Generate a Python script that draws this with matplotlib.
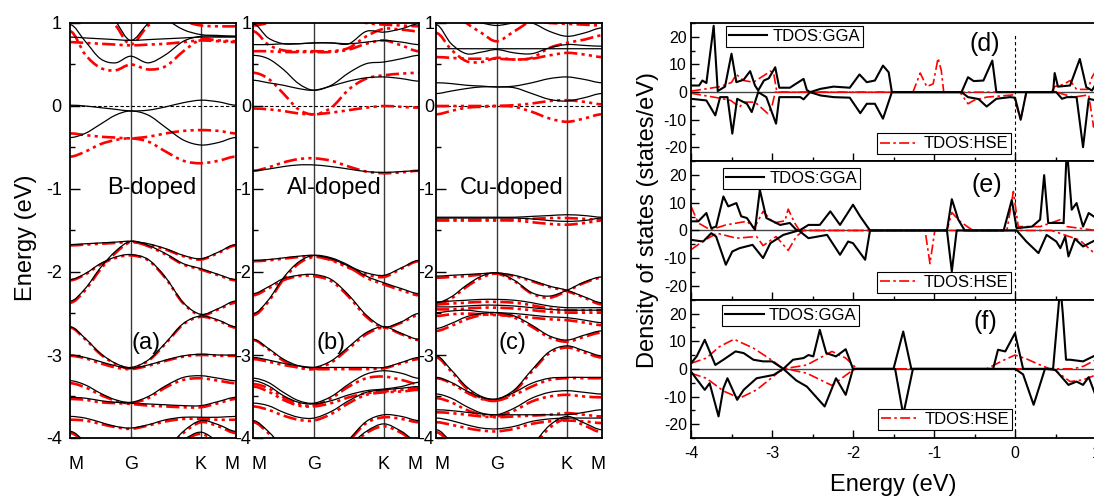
import numpy as np
import matplotlib
matplotlib.use('agg')
import matplotlib.pyplot as plt
from matplotlib.path import Path
from matplotlib.patches import PathPatch
from matplotlib.lines import Line2D
from matplotlib.ticker import MultipleLocator

plt.rcParams['font.family'] = ['Liberation Sans', 'DejaVu Sans']
plt.rcParams['axes.unicode_minus'] = False

W, H = 1094, 498

# ---------------- band structures along M-G-K-M ----------------
k_ticks = [0.0, 0.5774, 1.2440, 1.5774]
k_labels = ['M', 'G', 'K', 'M']
k_grid = [0.0, 0.1443, 0.2887, 0.4330, 0.5774, 0.7440, 0.9107, 1.0774, 1.2440, 1.4107, 1.5774]

# energies (eV) of each band on k_grid
b_gga = [
    [1.60, 1.40, 1.22, 1.02, 0.79, 1.00, 1.20, 1.32, 1.35, 1.35, 1.35],
    [0.98, 0.78, 0.57, 0.52, 0.60, 0.52, 0.62, 0.78, 0.84, 0.84, 0.84],
    [0.83, 0.82, 0.81, 0.80, 0.79, 0.80, 0.81, 0.82, 0.83, 0.83, 0.83],
    [1.50, 1.45, 1.40, 1.35, 1.30, 1.22, 1.05, 0.92, 0.86, 0.85, 0.84],
    [0.01, 0.00, -0.02, -0.04, -0.06, -0.05, -0.01, 0.04, 0.07, 0.05, 0.01],
    [-0.38, -0.33, -0.22, -0.11, -0.06, -0.11, -0.26, -0.41, -0.47, -0.44, -0.38],
    [-1.67, -1.66, -1.65, -1.64, -1.63, -1.66, -1.72, -1.80, -1.84, -1.76, -1.67],
    [-2.35, -2.20, -1.95, -1.75, -1.63, -1.68, -1.78, -1.90, -1.96, -2.03, -2.09],
    [-2.09, -2.02, -1.90, -1.82, -1.79, -1.85, -2.07, -2.37, -2.51, -2.44, -2.35],
    [-2.66, -2.80, -2.98, -3.10, -3.15, -3.06, -2.85, -2.62, -2.53, -2.58, -2.66],
    [-3.00, -3.03, -3.08, -3.13, -3.16, -3.12, -3.06, -3.01, -2.99, -3.00, -3.00],
    [-3.31, -3.36, -3.46, -3.54, -3.57, -3.50, -3.37, -3.27, -3.25, -3.28, -3.31],
    [-3.51, -3.52, -3.55, -3.57, -3.58, -3.59, -3.60, -3.61, -3.61, -3.56, -3.51],
    [-3.74, -3.76, -3.81, -3.86, -3.88, -3.84, -3.78, -3.75, -3.75, -3.75, -3.74],
    [-3.92, -4.05, -4.25, -4.40, -4.45, -4.35, -4.15, -3.92, -3.79, -3.84, -3.92],
    [-4.50, -4.50, -4.45, -4.42, -4.40, -4.30, -4.15, -4.02, -3.93, -4.05, -4.20],
]
b_hse = [
    [0.77, 0.76, 0.75, 0.74, 0.73, 0.74, 0.75, 0.77, 0.79, 0.78, 0.77],
    [0.90, 0.62, 0.46, 0.43, 0.50, 0.44, 0.48, 0.66, 0.80, 0.79, 0.78],
    [1.50, 1.30, 1.12, 0.97, 0.74, 0.97, 1.08, 1.02, 0.97, 0.96, 0.96],
    [-0.33, -0.35, -0.37, -0.38, -0.39, -0.37, -0.33, -0.30, -0.29, -0.30, -0.33],
    [-0.61, -0.55, -0.46, -0.41, -0.39, -0.43, -0.55, -0.66, -0.69, -0.66, -0.61],
    [-1.68, -1.67, -1.66, -1.65, -1.64, -1.67, -1.73, -1.81, -1.85, -1.77, -1.68],
    [-2.37, -2.22, -1.97, -1.77, -1.64, -1.69, -1.79, -1.91, -1.97, -2.04, -2.10],
    [-2.10, -2.03, -1.91, -1.83, -1.80, -1.86, -2.08, -2.38, -2.52, -2.45, -2.37],
    [-2.67, -2.81, -2.99, -3.11, -3.16, -3.07, -2.86, -2.63, -2.54, -2.59, -2.67],
    [-3.01, -3.04, -3.10, -3.15, -3.17, -3.13, -3.07, -3.02, -3.00, -3.01, -3.01],
    [-3.34, -3.39, -3.48, -3.55, -3.58, -3.52, -3.39, -3.30, -3.28, -3.31, -3.34],
    [-3.53, -3.54, -3.57, -3.58, -3.59, -3.61, -3.62, -3.63, -3.63, -3.58, -3.53],
    [-3.78, -3.79, -3.83, -3.87, -3.89, -3.85, -3.80, -3.77, -3.77, -3.78, -3.78],
    [-3.94, -4.07, -4.27, -4.42, -4.47, -4.37, -4.17, -3.94, -3.81, -3.86, -3.94],
    [-4.52, -4.52, -4.47, -4.44, -4.42, -4.32, -4.17, -4.04, -3.95, -4.07, -4.22],
]

al_gga = [
    [0.99, 0.82, 0.75, 0.75, 0.76, 0.76, 0.75, 0.90, 0.89, 0.93, 0.99],
    [0.74, 0.74, 0.75, 0.75, 0.76, 0.76, 0.75, 0.77, 0.79, 0.77, 0.74],
    [0.61, 0.57, 0.44, 0.27, 0.19, 0.25, 0.40, 0.51, 0.53, 0.57, 0.61],
    [0.31, 0.28, 0.25, 0.21, 0.19, 0.24, 0.30, 0.34, 0.35, 0.33, 0.30],
    [-0.78, -0.76, -0.73, -0.71, -0.71, -0.73, -0.76, -0.79, -0.80, -0.79, -0.78],
    [-1.86, -1.85, -1.83, -1.81, -1.80, -1.84, -1.93, -2.01, -2.04, -1.95, -1.86],
    [-2.50, -2.34, -2.07, -1.88, -1.80, -1.83, -1.92, -2.05, -2.13, -2.20, -2.26],
    [-2.26, -2.18, -2.08, -2.04, -2.03, -2.09, -2.28, -2.52, -2.66, -2.60, -2.50],
    [-2.81, -2.92, -3.05, -3.13, -3.15, -3.07, -2.90, -2.73, -2.66, -2.74, -2.81],
    [-3.03, -3.06, -3.10, -3.13, -3.15, -3.15, -3.15, -3.15, -3.15, -3.09, -3.03],
    [-3.28, -3.33, -3.45, -3.55, -3.58, -3.50, -3.35, -3.23, -3.19, -3.22, -3.28],
    [-3.31, -3.37, -3.49, -3.57, -3.59, -3.55, -3.48, -3.43, -3.41, -3.38, -3.33],
    [-3.58, -3.61, -3.69, -3.75, -3.76, -3.68, -3.55, -3.45, -3.42, -3.40, -3.38],
    [-3.79, -3.92, -4.12, -4.28, -4.35, -4.25, -4.02, -3.80, -3.72, -3.74, -3.79],
    [-4.40, -4.40, -4.40, -4.40, -4.40, -4.30, -4.10, -3.92, -3.83, -3.92, -4.05],
]
al_hse = [
    [0.97, 1.00, 1.05, 1.10, 1.12, 1.10, 1.04, 1.00, 0.98, 0.97, 0.96],
    [0.90, 0.74, 0.67, 0.66, 0.66, 0.66, 0.70, 0.84, 0.93, 0.92, 0.90],
    [0.66, 0.66, 0.65, 0.65, 0.65, 0.65, 0.68, 0.75, 0.79, 0.73, 0.66],
    [0.40, 0.33, 0.15, -0.04, -0.10, -0.02, 0.20, 0.33, 0.37, 0.39, 0.40],
    [-0.03, -0.04, -0.06, -0.09, -0.10, -0.08, -0.05, -0.02, 0.00, -0.01, -0.02],
    [-0.78, -0.74, -0.68, -0.64, -0.63, -0.66, -0.73, -0.79, -0.81, -0.80, -0.78],
    [-1.87, -1.86, -1.84, -1.82, -1.81, -1.86, -1.95, -2.03, -2.06, -1.96, -1.87],
    [-2.52, -2.36, -2.09, -1.90, -1.82, -1.85, -1.94, -2.07, -2.15, -2.22, -2.28],
    [-2.28, -2.20, -2.10, -2.05, -2.05, -2.11, -2.30, -2.54, -2.67, -2.61, -2.52],
    [-2.82, -2.93, -3.07, -3.15, -3.17, -3.09, -2.92, -2.75, -2.67, -2.75, -2.82],
    [-3.05, -3.08, -3.12, -3.15, -3.17, -3.17, -3.17, -3.17, -3.16, -3.10, -3.05],
    [-3.35, -3.40, -3.51, -3.59, -3.61, -3.52, -3.38, -3.28, -3.26, -3.30, -3.35],
    [-3.38, -3.44, -3.54, -3.61, -3.62, -3.58, -3.51, -3.46, -3.44, -3.42, -3.40],
    [-3.62, -3.66, -3.73, -3.78, -3.79, -3.71, -3.58, -3.48, -3.45, -3.44, -3.42],
    [-3.81, -3.94, -4.14, -4.30, -4.37, -4.27, -4.04, -3.82, -3.75, -3.77, -3.81],
    [-4.42, -4.42, -4.42, -4.42, -4.42, -4.32, -4.12, -3.94, -3.86, -3.94, -4.07],
]

cu_gga = [
    [1.05, 1.05, 1.03, 1.00, 0.97, 1.00, 1.00, 0.90, 0.84, 0.88, 0.94],
    [0.98, 0.75, 0.63, 0.65, 0.68, 0.64, 0.63, 0.70, 0.74, 0.73, 0.72],
    [0.69, 0.69, 0.69, 0.69, 0.69, 0.69, 0.69, 0.69, 0.69, 0.69, 0.69],
    [0.28, 0.27, 0.25, 0.24, 0.23, 0.24, 0.28, 0.33, 0.35, 0.32, 0.28],
    [0.15, 0.18, 0.21, 0.23, 0.23, 0.22, 0.15, 0.08, 0.06, 0.10, 0.15],
    [-1.34, -1.34, -1.34, -1.34, -1.34, -1.34, -1.33, -1.32, -1.31, -1.32, -1.34],
    [-1.35, -1.35, -1.35, -1.35, -1.35, -1.35, -1.36, -1.38, -1.39, -1.38, -1.35],
    [-2.05, -2.04, -2.03, -2.02, -2.01, -2.04, -2.10, -2.17, -2.22, -2.30, -2.37],
    [-2.37, -2.30, -2.16, -2.05, -2.01, -2.10, -2.25, -2.29, -2.22, -2.12, -2.06],
    [-2.36, -2.35, -2.34, -2.33, -2.33, -2.34, -2.37, -2.41, -2.43, -2.43, -2.43],
    [-2.42, -2.42, -2.41, -2.40, -2.40, -2.41, -2.43, -2.45, -2.46, -2.46, -2.46],
    [-2.49, -2.47, -2.46, -2.48, -2.49, -2.50, -2.52, -2.54, -2.55, -2.58, -2.61],
    [-2.68, -2.62, -2.54, -2.50, -2.49, -2.53, -2.64, -2.77, -2.82, -2.76, -2.71],
    [-3.01, -3.18, -3.38, -3.50, -3.53, -3.42, -3.18, -2.96, -2.89, -2.95, -3.01],
    [-3.27, -3.33, -3.43, -3.51, -3.53, -3.45, -3.34, -3.28, -3.27, -3.27, -3.27],
    [-3.47, -3.52, -3.62, -3.70, -3.72, -3.64, -3.52, -3.45, -3.43, -3.45, -3.47],
    [-3.66, -3.67, -3.69, -3.71, -3.72, -3.72, -3.72, -3.72, -3.72, -3.69, -3.66],
    [-3.76, -3.79, -3.84, -3.88, -3.89, -3.86, -3.80, -3.77, -3.76, -3.76, -3.76],
    [-3.90, -4.05, -4.25, -4.40, -4.45, -4.35, -4.10, -3.85, -3.74, -3.82, -3.90],
]
cu_hse = [
    [1.30, 1.15, 1.00, 0.88, 0.78, 0.90, 1.02, 1.00, 0.99, 0.98, 0.97],
    [0.88, 0.68, 0.54, 0.53, 0.58, 0.56, 0.58, 0.70, 0.76, 0.80, 0.85],
    [0.59, 0.58, 0.57, 0.57, 0.57, 0.56, 0.57, 0.61, 0.64, 0.62, 0.59],
    [0.00, 0.00, 0.00, 0.00, 0.00, 0.01, 0.03, 0.06, 0.07, 0.05, 0.02],
    [-0.10, -0.06, -0.02, -0.01, 0.00, -0.01, -0.07, -0.15, -0.19, -0.15, -0.10],
    [-1.37, -1.37, -1.37, -1.37, -1.37, -1.37, -1.36, -1.35, -1.35, -1.36, -1.37],
    [-1.38, -1.38, -1.38, -1.38, -1.38, -1.38, -1.40, -1.42, -1.43, -1.41, -1.38],
    [-2.07, -2.06, -2.05, -2.03, -2.02, -2.05, -2.11, -2.18, -2.23, -2.31, -2.39],
    [-2.39, -2.32, -2.18, -2.07, -2.02, -2.11, -2.26, -2.31, -2.23, -2.13, -2.07],
    [-2.39, -2.38, -2.37, -2.36, -2.36, -2.37, -2.40, -2.44, -2.46, -2.46, -2.46],
    [-2.45, -2.45, -2.44, -2.43, -2.43, -2.44, -2.46, -2.48, -2.49, -2.49, -2.49],
    [-2.53, -2.51, -2.50, -2.51, -2.52, -2.53, -2.55, -2.57, -2.58, -2.61, -2.64],
    [-2.71, -2.65, -2.57, -2.52, -2.51, -2.55, -2.66, -2.79, -2.84, -2.78, -2.73],
    [-3.03, -3.20, -3.40, -3.52, -3.55, -3.44, -3.20, -2.98, -2.91, -2.97, -3.03],
    [-3.28, -3.34, -3.45, -3.53, -3.55, -3.48, -3.38, -3.30, -3.28, -3.28, -3.28],
    [-3.52, -3.57, -3.66, -3.72, -3.74, -3.67, -3.56, -3.50, -3.48, -3.50, -3.51],
    [-3.69, -3.70, -3.72, -3.74, -3.75, -3.74, -3.73, -3.72, -3.70, -3.72, -3.74],
    [-3.81, -3.84, -3.88, -3.91, -3.92, -3.89, -3.83, -3.80, -3.79, -3.80, -3.82],
    [-3.93, -4.08, -4.28, -4.43, -4.48, -4.38, -4.13, -3.88, -3.77, -3.85, -3.93],
]

band_sets = [(b_gga, b_hse, 'B-doped', '(a)'),
             (al_gga, al_hse, 'Al-doped', '(b)'),
             (cu_gga, cu_hse, 'Cu-doped', '(c)')]

# ---------------- total DOS, (energy eV, states/eV) ----------------
d_gga_up = [(-4.0, 2.4), (-3.90, 2.4), (-3.86, 4.2), (-3.81, 3.3), (-3.72, 24.0), (-3.67, 0.4),
            (-3.58, 2.0), (-3.50, 13.9), (-3.44, 3.6), (-3.35, 4.5), (-3.27, 7.6), (-3.21, 2.4),
            (-3.17, 0.6), (-3.10, 4.2), (-3.04, 5.0), (-2.96, 9.0), (-2.91, 1.6), (-2.78, 1.6),
            (-2.61, 4.8), (-2.57, 0.8), (-2.53, 0.0), (-2.40, 1.2), (-2.24, 2.0), (-2.04, 1.6),
            (-1.92, 6.4), (-1.83, 3.6), (-1.73, 4.2), (-1.63, 9.6), (-1.56, 7.2), (-1.52, 0.0),
            (-0.66, 0.0), (-0.58, 5.4), (-0.51, 4.0), (-0.39, 4.2), (-0.28, 11.4), (-0.23, 0.0),
            (0.47, 0.0), (0.49, 6.9), (0.53, 2.0), (0.68, 2.4), (0.80, 12.0), (0.88, 1.8),
            (0.95, 0.6), (1.0, 3.0)]
d_gga_dn = [(-4.0, -2.4), (-3.81, -3.0), (-3.70, -8.4), (-3.64, -1.8), (-3.55, -1.8), (-3.49, -15.0),
            (-3.43, -2.4), (-3.31, -4.2), (-3.25, -7.2), (-3.17, 0.0), (-3.07, -1.8), (-2.95, -11.4),
            (-2.91, -1.8), (-2.65, -1.8), (-2.61, -2.6), (-2.53, 0.0), (-2.40, -1.2), (-2.24, -1.8),
            (-2.04, -2.0), (-1.91, -7.6), (-1.83, -4.2), (-1.73, -4.2), (-1.63, -9.6), (-1.52, 0.0),
            (-0.66, 0.0), (-0.58, -1.8), (-0.45, -2.5), (-0.35, -5.2), (-0.23, -2.4), (-0.06, -1.8),
            (0.0, -2.0), (0.07, -10.0), (0.14, 0.0), (0.51, 0.0), (0.58, -2.4), (0.64, -1.8),
            (0.76, -1.8), (0.84, -19.9), (0.91, -2.4), (1.0, -3.0)]
d_hse_up = [(-4.0, 0.4), (-3.81, 1.2), (-3.64, 2.0), (-3.50, 3.5), (-3.44, 6.4), (-3.35, 4.2),
            (-3.23, 3.6), (-3.10, 6.0), (-3.02, 7.6), (-2.98, 7.0), (-2.94, 0.0), (-1.26, 0.0),
            (-1.17, 6.9), (-1.09, 2.0), (-1.01, 3.0), (-0.95, 12.3), (-0.91, 7.8), (-0.88, 0.0),
            (0.45, 0.0), (0.49, 2.0), (0.60, 2.8), (0.68, 4.2), (0.76, 1.0), (0.90, 1.0),
            (0.95, 5.4), (1.0, 7.8)]
d_hse_dn = [(-4.0, -0.4), (-3.68, -2.0), (-3.51, -3.0), (-3.40, -5.4), (-3.35, -3.6), (-3.21, -3.6),
            (-3.05, -7.8), (-3.00, -5.0), (-2.96, 0.0), (-0.68, 0.0), (-0.58, -4.2), (-0.51, -3.0),
            (-0.35, -1.8), (-0.02, -1.0), (0.07, -10.0), (0.14, 0.0), (0.51, 0.0), (0.72, -1.8),
            (0.91, -1.0), (0.97, -12.6), (1.0, -8.0)]

e_gga_up = [(-4.0, 3.3), (-3.91, 3.3), (-3.81, 6.3), (-3.75, 0.8), (-3.69, 1.4), (-3.60, 12.3),
            (-3.54, 8.7), (-3.44, 9.9), (-3.38, 5.1), (-3.31, 4.5), (-3.21, 0.2), (-3.15, 14.7),
            (-3.07, 4.5), (-2.90, 2.0), (-2.78, 2.7), (-2.70, 0.2), (-2.66, 0.0), (-2.55, 2.0),
            (-2.41, 2.0), (-2.28, 6.9), (-2.16, 2.0), (-2.00, 9.3), (-1.91, 5.0), (-1.79, 0.0),
            (-0.84, 0.0), (-0.78, 11.3), (-0.70, 3.9), (-0.62, 0.0), (-0.14, 0.0), (-0.04, 11.0),
            (0.02, 0.8), (0.21, 1.4), (0.31, 3.9), (0.36, 20.0), (0.41, 2.7), (0.60, 2.7),
            (0.64, 30.0), (0.70, 7.5), (0.76, 9.9), (0.84, 1.4), (0.91, 6.3), (1.0, 4.5)]
e_gga_dn = [(-4.0, -3.4), (-3.85, -4.0), (-3.75, -1.0), (-3.69, -2.2), (-3.57, -12.4), (-3.49, -7.6),
            (-3.40, -6.4), (-3.24, -5.2), (-3.11, -10.0), (-3.02, -4.6), (-2.86, -1.6), (-2.67, 0.0),
            (-2.55, -2.8), (-2.32, -1.6), (-2.16, -8.8), (-2.06, -4.0), (-2.00, -4.6), (-1.85, -10.6),
            (-1.79, 0.0), (-0.84, 0.0), (-0.78, -14.8), (-0.72, 0.0), (0.02, 0.0), (0.14, -4.0),
            (0.29, -8.2), (0.39, -1.6), (0.51, -4.0), (0.56, -6.4), (0.62, -2.2), (0.66, -9.4),
            (0.74, -3.0), (0.84, -5.8), (1.0, -3.4)]
e_hse_up = [(-4.0, 8.7), (-3.91, 2.7), (-3.76, 0.2), (-3.57, 2.0), (-3.31, 3.3), (-3.22, 0.8),
            (-3.11, 6.9), (-2.98, 2.7), (-2.84, 3.5), (-2.80, 7.7), (-2.72, 2.7), (-2.66, 0.0),
            (-0.84, 0.0), (-0.78, 6.5), (-0.68, 3.3), (-0.56, 0.8), (-0.51, 0.0), (-0.10, 0.0),
            (-0.02, 14.1), (0.04, 1.4), (0.31, 1.4), (0.56, 3.9), (0.64, 1.4), (1.0, 0.0)]
e_hse_dn = [(-4.0, -7.0), (-3.86, -4.0), (-3.68, -1.0), (-3.44, -2.8), (-3.19, -2.2), (-3.11, -5.5),
            (-2.95, -2.2), (-2.80, -7.2), (-2.70, -2.2), (-2.61, 0.0), (-1.11, 0.0), (-1.05, -12.0),
            (-0.99, 0.0), (0.45, 0.0), (0.60, -1.5), (0.80, -3.5), (1.0, -8.8)]

f_gga_up = [(-4.0, 2.0), (-3.93, 4.5), (-3.83, 10.5), (-3.70, 1.4), (-3.60, 3.3), (-3.45, 6.3),
            (-3.35, 5.7), (-3.23, 3.3), (-3.11, 2.7), (-3.00, 2.7), (-2.86, 0.0), (-2.74, 3.3),
            (-2.61, 3.9), (-2.55, 5.0), (-2.49, 4.5), (-2.41, 14.1), (-2.33, 5.7), (-2.21, 4.5),
            (-2.09, 7.1), (-2.00, 0.0), (-1.50, 0.0), (-1.38, 13.5), (-1.28, 0.0), (-0.27, 0.0),
            (-0.21, 6.9), (-0.12, 6.3), (0.00, 12.9), (0.10, 0.0), (0.47, 0.0), (0.53, 20.0),
            (0.56, 30.0), (0.59, 20.0), (0.63, 3.3), (0.68, 3.3), (0.84, 2.7), (1.0, 5.0)]
f_gga_dn = [(-4.0, -1.0), (-3.83, -7.6), (-3.77, -5.2), (-3.66, -17.2), (-3.60, -7.0), (-3.55, -3.4),
            (-3.43, -11.2), (-3.35, -7.6), (-3.19, -3.4), (-2.98, -2.2), (-2.86, 0.0), (-2.70, -4.2),
            (-2.57, -6.4), (-2.35, -13.6), (-2.21, -3.4), (-2.09, -9.4), (-2.00, 0.0), (-1.48, 0.0),
            (-1.38, -16.6), (-1.26, 0.0), (0.0, 0.0), (0.10, -2.0), (0.23, -13.0), (0.37, 0.0),
            (0.50, -0.4), (0.66, -5.8), (0.76, -4.6), (0.84, -5.8), (0.91, -3.0), (1.0, -10.0)]
f_hse_up = [(-4.0, 2.0), (-3.81, 3.9), (-3.65, 8.0), (-3.47, 10.7), (-3.23, 7.5), (-2.98, 2.7),
            (-2.86, 0.0), (-2.57, 1.4), (-2.26, 6.3), (-2.09, 3.9), (-1.95, 0.0), (-0.35, 0.0),
            (-0.15, 3.0), (0.0, 5.0), (0.15, 3.5), (0.31, 1.4), (0.43, 0.0), (0.72, 0.0),
            (0.85, 1.0), (1.0, 3.3)]
f_hse_dn = [(-4.0, -1.6), (-3.81, -3.4), (-3.60, -8.0), (-3.40, -10.6), (-3.19, -7.6), (-2.91, -1.0),
            (-2.82, 0.0), (-2.57, -1.6), (-2.26, -6.0), (-2.00, -0.4), (-1.95, 0.0), (0.47, 0.0),
            (0.68, -4.6), (0.84, -4.0), (1.0, -2.2)]

dos_sets = [(d_gga_up, d_gga_dn, d_hse_up, d_hse_dn, '(d)'),
            (e_gga_up, e_gga_dn, e_hse_up, e_hse_dn, '(e)'),
            (f_gga_up, f_gga_dn, f_hse_up, f_hse_dn, '(f)')]


def band_path(xs, ys):
    # smooth curve through the sampled points (Catmull-Rom as cubic Beziers)
    pts = np.column_stack([xs, ys])
    first = [2 * pts[0, 0] - pts[1, 0], pts[1, 1]]
    last = [2 * pts[-1, 0] - pts[-2, 0], pts[-2, 1]]
    ext = np.vstack([first, pts, last])
    verts = [pts[0]]
    codes = [Path.MOVETO]
    for i in range(len(pts) - 1):
        p0, p1, p2, p3 = ext[i], ext[i + 1], ext[i + 2], ext[i + 3]
        verts += [p1 + (p2 - p0) / 6.0, p2 - (p3 - p1) / 6.0, p2]
        codes += [Path.CURVE4] * 3
    return Path(verts, codes)


def px_axes(fig, x0, y0, x1, y1):
    return fig.add_axes([x0 / W, 1 - y1 / H, (x1 - x0) / W, (y1 - y0) / H])


fig = plt.figure(figsize=(W / 100, H / 100), dpi=100)

red_dash = (0, (5, 1.6, 1.2, 1.6, 1.2, 1.6))
band_left = [70, 253, 436]
text_x = [0.49, 0.488, 0.458]
label_x = [0.458, 0.47, 0.458]

for n, (gga, hse, name, tag) in enumerate(band_sets):
    ax = px_axes(fig, band_left[n], 23, band_left[n] + 166, 438)
    ax.set_xlim(k_ticks[0], k_ticks[-1])
    ax.set_ylim(-4, 1)
    for band in hse:
        ax.add_patch(PathPatch(band_path(k_grid, band), fill=False, edgecolor='red',
                               lw=1.9, linestyle=red_dash, zorder=2))
    for band in gga:
        ax.add_patch(PathPatch(band_path(k_grid, band), fill=False, edgecolor='black',
                               lw=0.9, zorder=3))
    for k in k_ticks[1:3]:
        ax.axvline(k, color='#3a3a3a', lw=1.0, zorder=1)
    ax.axhline(0, color='black', lw=0.8, ls=(0, (3, 2)), zorder=1)

    ax.set_xticks([k_ticks[0] + 0.055, k_ticks[1], k_ticks[2], k_ticks[3] - 0.035], k_labels)
    ax.tick_params(axis='x', length=0, pad=13, labelsize=13)
    ax.yaxis.set_major_locator(MultipleLocator(1))
    ax.yaxis.set_minor_locator(MultipleLocator(0.5))
    ax.tick_params(axis='y', which='major', direction='in', length=7, width=1,
                   labelsize=13, pad=6 if n == 0 else 1)
    ax.tick_params(axis='y', which='minor', direction='in', length=3.5, width=1)
    for sp in ax.spines.values():
        sp.set_linewidth(1.3)

    ax.text(text_x[n], 0.602, name, transform=ax.transAxes, ha='center', va='center', fontsize=17)
    ax.text(label_x[n], 0.229, tag, transform=ax.transAxes, ha='center', va='center', fontsize=17)

fig.text(26 / W, 1 - 238 / H, 'Energy (eV)', rotation=90, ha='center', va='center', fontsize=17)

# density of states panels
dos_top = [23, 161.3, 299.7]
gga_anchor = [(0.086, 0.978), (0.079, 0.952), (0.077, 0.962)]
hse_anchor = [(0.459, 0.05), (0.459, 0.05), (0.462, 0.058)]
tag_pos = [(985, 44), (987, 185), (985, 322)]

for n, (gu, gd, hu, hd, tag) in enumerate(dos_sets):
    ax = px_axes(fig, 691, dos_top[n], 1096, dos_top[n] + 138.3)
    ax.set_xlim(-4, 1)
    ax.set_ylim(-25, 25)
    ax.axhline(0, color='#444444', lw=1.0, zorder=1)
    ax.axvline(0, color='black', lw=0.8, ls=(0, (3, 2.5)), zorder=1,
               ymax=0.92 if n == 0 else 1.0)
    for curve in (hu, hd):
        e, v = zip(*curve)
        ax.plot(e, v, color='red', lw=1.2, ls=(0, (6, 2, 1.5, 2)), zorder=2)
    for curve in (gu, gd):
        e, v = zip(*curve)
        ax.plot(e, v, color='black', lw=1.5, zorder=3, solid_joinstyle='round')

    ax.xaxis.set_major_locator(MultipleLocator(1))
    ax.xaxis.set_minor_locator(MultipleLocator(0.5))
    ax.yaxis.set_major_locator(MultipleLocator(10))
    ax.yaxis.set_minor_locator(MultipleLocator(5))
    ax.tick_params(which='major', direction='in', length=6, width=1, labelsize=11.5)
    ax.tick_params(which='minor', direction='in', length=3, width=1)
    ax.tick_params(axis='x', labelbottom=(n == 2), pad=6)
    ax.tick_params(axis='y', pad=3)
    for sp in ax.spines.values():
        sp.set_linewidth(1.3)

    leg_kw = dict(fontsize=12, frameon=True, fancybox=False, borderpad=0.18,
                  handlelength=2.3, handletextpad=0.3, borderaxespad=0, framealpha=1)
    h1 = Line2D([], [], color='black', lw=1.5, label='TDOS:GGA')
    h2 = Line2D([], [], color='red', lw=1.2, ls=(0, (6, 2, 1.5, 2)), label='TDOS:HSE')
    leg1 = ax.legend(handles=[h1], loc='upper left', bbox_to_anchor=gga_anchor[n], **leg_kw)
    leg1.get_frame().set_edgecolor('black')
    leg1.get_frame().set_linewidth(0.8)
    ax.add_artist(leg1)
    leg2 = ax.legend(handles=[h2], loc='lower left', bbox_to_anchor=hse_anchor[n], **leg_kw)
    leg2.get_frame().set_edgecolor('black')
    leg2.get_frame().set_linewidth(0.8)

    fig.text(tag_pos[n][0] / W, 1 - tag_pos[n][1] / H, tag, ha='center', va='center', fontsize=18)

fig.text(893 / W, 1 - 485 / H, 'Energy (eV)', ha='center', va='center', fontsize=17)
fig.text(648 / W, 1 - 220 / H, 'Density of states (states/eV)', rotation=90,
         ha='center', va='center', fontsize=17)

fig.savefig('out.png', dpi=100)
